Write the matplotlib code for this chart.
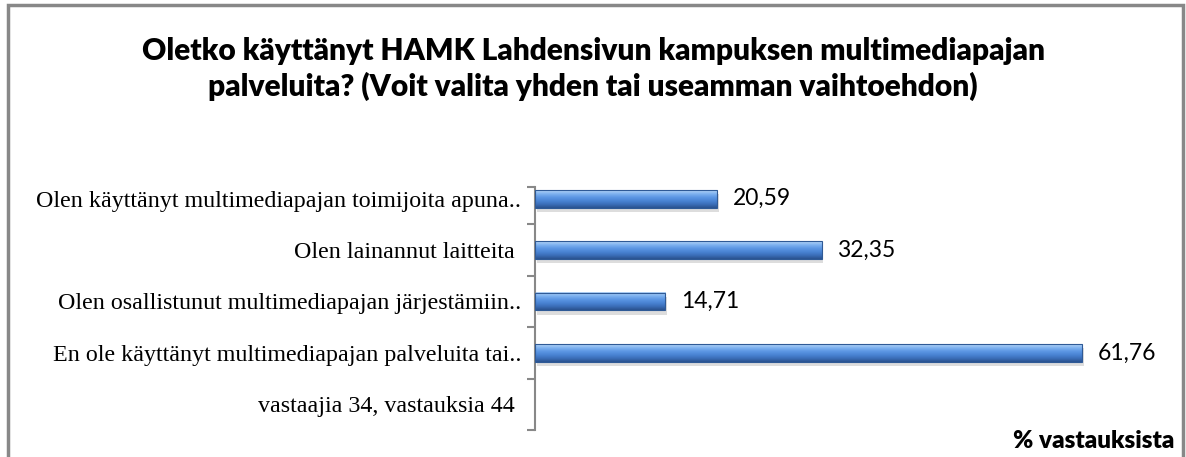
import numpy as np
import matplotlib
matplotlib.use('Agg')
import matplotlib.pyplot as plt
from matplotlib.colors import LinearSegmentedColormap
from matplotlib.patches import Rectangle

# Data
categories = [
    'Olen käyttänyt multimediapajan toimijoita apuna..',
    'Olen lainannut laitteita ',
    'Olen osallistunut multimediapajan järjestämiin..',
    'En ole käyttänyt multimediapajan palveluita tai..',
    'vastaajia 34, vastauksia 44 ',
]
values = [20.59, 32.35, 14.71, 61.76, None]
value_labels = ['20,59', '32,35', '14,71', '61,76', '']

title = ('Oletko käyttänyt HAMK Lahdensivun kampuksen multimediapajan\n'
         'palveluita? (Voit valita yhden tai useamman vaihtoehdon)')

W, H = 1186, 457
fig = plt.figure(figsize=(W / 100, H / 100), dpi=100)

# harmaa kehys
fig.patches.append(Rectangle((8 / W, -0.05), 1175 / W, 1.05 - 5 / H,
                             transform=fig.transFigure, fill=False,
                             edgecolor='#888888', linewidth=2.5))

fig.text(0.5, 1 - 69 / H, title, ha='center', va='center', fontsize=21.5,
         fontweight='heavy', family='Lato', linespacing=1.32)

ax = fig.add_axes([535 / W, 1 - 430 / H, 620 / W, 257 / H])

bar_h = 0.35
grad = LinearSegmentedColormap.from_list(
    'bev', ['#b5d4f7', '#80b3f0', '#5c97e4', '#4a84d4', '#3b6eb8', '#2a528f'])
g = np.linspace(0, 1, 64).reshape(-1, 1)
for i, v in enumerate(values):
    if v is None:
        continue
    # varjo
    ax.add_patch(Rectangle((0.2, i - bar_h / 2 + 0.08), v, bar_h,
                           facecolor='#a0a0a0', alpha=0.35, edgecolor='none', zorder=1))
    ax.imshow(g, cmap=grad, aspect='auto', extent=(0, v, i + bar_h / 2, i - bar_h / 2),
              zorder=2, interpolation='bilinear')
    ax.add_patch(Rectangle((0, i - bar_h / 2), v, bar_h, fill=False,
                           edgecolor='#2f5a96', linewidth=0.8, zorder=3))
    ax.text(v + 1.8, i, value_labels[i], va='center', ha='left',
            fontsize=16.5, family='Lato', color='black')

ax.set_xlim(0, 70)
ax.set_ylim(len(categories) - 0.5, -0.5)

spine_top = -0.22
ax.set_yticks(range(len(categories)))
ax.set_yticklabels(categories, family='Liberation Serif', fontsize=17.3)
ax.tick_params(axis='y', length=0, pad=10)
ax.set_yticks([spine_top] + list(np.arange(0.5, len(categories))), minor=True)
ax.tick_params(axis='y', which='minor', length=6, color='#888888', width=1.5)
ax.set_xticks([])
for s in ['top', 'right', 'bottom']:
    ax.spines[s].set_visible(False)
ax.spines['left'].set_color('#888888')
ax.spines['left'].set_linewidth(1.5)
ax.spines['left'].set_bounds(len(categories) - 0.5, spine_top)

fig.text(1174 / W, 1 - 441 / H, '% vastauksista', ha='right', va='center',
         fontsize=17.5, fontweight='heavy', family='Lato')

fig.savefig('out.png', dpi=100)
